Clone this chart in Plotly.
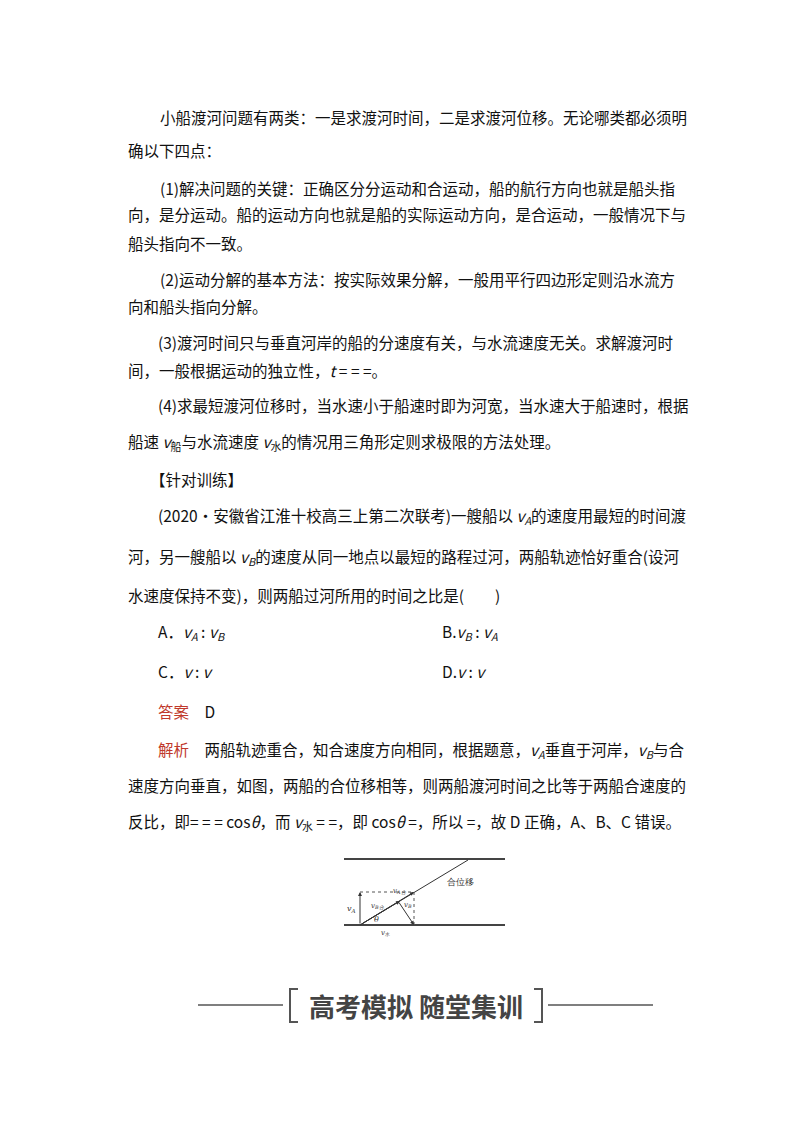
import plotly.graph_objects as go

F = "Noto Sans CJK SC"
lines_x = [150,118,150,118,118,150,118,148,118,148,118,140,148,118,118,148,432,148,432,148,148,118,118]
lines_y = [109,142,180,206,235,271,298,334,362,397,434,471,508,549,587,624,624,663,663,703,742,777,814]
lines_t = [
 "小船渡河问题有两类：一是求渡河时间，二是求渡河位移。无论哪类都必须明",
 "确以下四点：",
 "(1)解决问题的关键：正确区分分运动和合运动，船的航行方向也就是船头指",
 "向，是分运动。船的运动方向也就是船的实际运动方向，是合运动，一般情况下与",
 "船头指向不一致。",
 "(2)运动分解的基本方法：按实际效果分解，一般用平行四边形定则沿水流方",
 "向和船头指向分解。",
 "(3)渡河时间只与垂直河岸的船的分速度有关，与水流速度无关。求解渡河时",
 "间，一般根据运动的独立性，<i>t</i> = = =。",
 "(4)求最短渡河位移时，当水速小于船速时即为河宽，当水速大于船速时，根据",
 "船速 <i>v</i><sub>船</sub>与水流速度 <i>v</i><sub>水</sub>的情况用三角形定则求极限的方法处理。",
 "【针对训练】",
 "(2020·安徽省江淮十校高三上第二次联考)一艘船以 <i>v<sub>A</sub></i>的速度用最短的时间渡",
 "河，另一艘船以 <i>v<sub>B</sub></i>的速度从同一地点以最短的路程过河，两船轨迹恰好重合(设河",
 "水速度保持不变)，则两船过河所用的时间之比是(　　)",
 "A．<i>v<sub>A</sub></i> : <i>v<sub>B</sub></i>",
 "B.<i>v<sub>B</sub></i> : <i>v<sub>A</sub></i>",
 "C．<i>v</i> : <i>v</i>",
 "D.<i>v</i> : <i>v</i>",
 "<span style='color:#c0392b'>答案</span>　D",
 "<span style='color:#c0392b'>解析</span>　两船轨迹重合，知合速度方向相同，根据题意，<i>v<sub>A</sub></i>垂直于河岸，<i>v<sub>B</sub></i>与合",
 "速度方向垂直，如图，两船的合位移相等，则两船渡河时间之比等于两船合速度的",
 "反比，即= = = cos<i>θ</i>，而 <i>v</i><sub>水</sub> = =，即 cos<i>θ</i> =，所以 =，故 D 正确，A、B、C 错误。",
]

# diagram
bank_x = [336, 497]
bank_top_y = 851
bank_bot_y = 917
origin = (352, 917)
path_end = (460, 852)
corner = (406, 884)
vb_start = (390, 893)
dia_labels = [("合位移", 452, 874, 9), ("<i>v<sub>A</sub></i>", 343, 901, 8),
              ("<i>v<sub>A合</sub></i>", 392, 883, 7), ("<i>v<sub>B合</sub></i>", 370, 898, 7),
              ("<i>v<sub>B</sub></i>", 400, 897, 7), ("<i>θ</i>", 368, 911, 8),
              ("<i>v</i><sub>水</sub>", 377, 925, 7)]

fig = go.Figure()
ann = []
for x, y, t in zip(lines_x, lines_y, lines_t):
    ann.append(dict(x=x, y=y, text=t, showarrow=False, xanchor="left", yanchor="middle",
                    font=dict(family=F, size=15.5, color="#111")))
for t, x, y, s in dia_labels:
    ann.append(dict(x=x, y=y, text=t, showarrow=False, font=dict(family="DejaVu Serif", size=s, color="#333")))
# arrows
for (x0, y0), (x1, y1) in [(origin, (352, 884)), (vb_start, (406, 917)), (origin, (392, 893)), (origin, corner)]:
    ann.append(dict(x=x1, y=y1, ax=x0, ay=y0, xref="x", yref="y", axref="x", ayref="y",
                    showarrow=True, arrowhead=2, arrowsize=0.8, arrowwidth=1, arrowcolor="#333", text=""))
ann.append(dict(x=408, y=997, text="<b>高考模拟 随堂集训</b>", showarrow=False,
                font=dict(family="Noto Sans CJK SC", size=26, color="#444")))

shapes = []
for y in (bank_top_y, bank_bot_y):
    shapes.append(dict(type="line", x0=bank_x[0], x1=bank_x[1], y0=y, y1=y, line=dict(color="#444", width=2)))
shapes.append(dict(type="line", x0=origin[0], y0=origin[1], x1=path_end[0], y1=path_end[1], line=dict(color="#333", width=1)))
shapes.append(dict(type="line", x0=352, y0=884, x1=406, y1=884, line=dict(color="#555", width=1, dash="dot")))
shapes.append(dict(type="line", x0=406, y0=884, x1=406, y1=917, line=dict(color="#555", width=1, dash="dot")))
# banner
for x0, x1 in [(190, 275), (540, 645)]:
    shapes.append(dict(type="line", x0=x0, x1=x1, y0=997, y1=997, line=dict(color="#555", width=1.5)))
shapes += [
    dict(type="path", path="M 290 981 L 282 981 L 282 1014 L 290 1014", line=dict(color="#555", width=2)),
    dict(type="path", path="M 526 981 L 534 981 L 534 1014 L 526 1014", line=dict(color="#555", width=2)),
]

fig.update_layout(width=800, height=1132, margin=dict(l=0, r=0, t=0, b=0),
                  plot_bgcolor="white", paper_bgcolor="white",
                  xaxis=dict(range=[0, 800], visible=False, fixedrange=True),
                  yaxis=dict(range=[1132, 0], visible=False, fixedrange=True),
                  annotations=ann, shapes=shapes, showlegend=False)
fig.write_html("out.html")
